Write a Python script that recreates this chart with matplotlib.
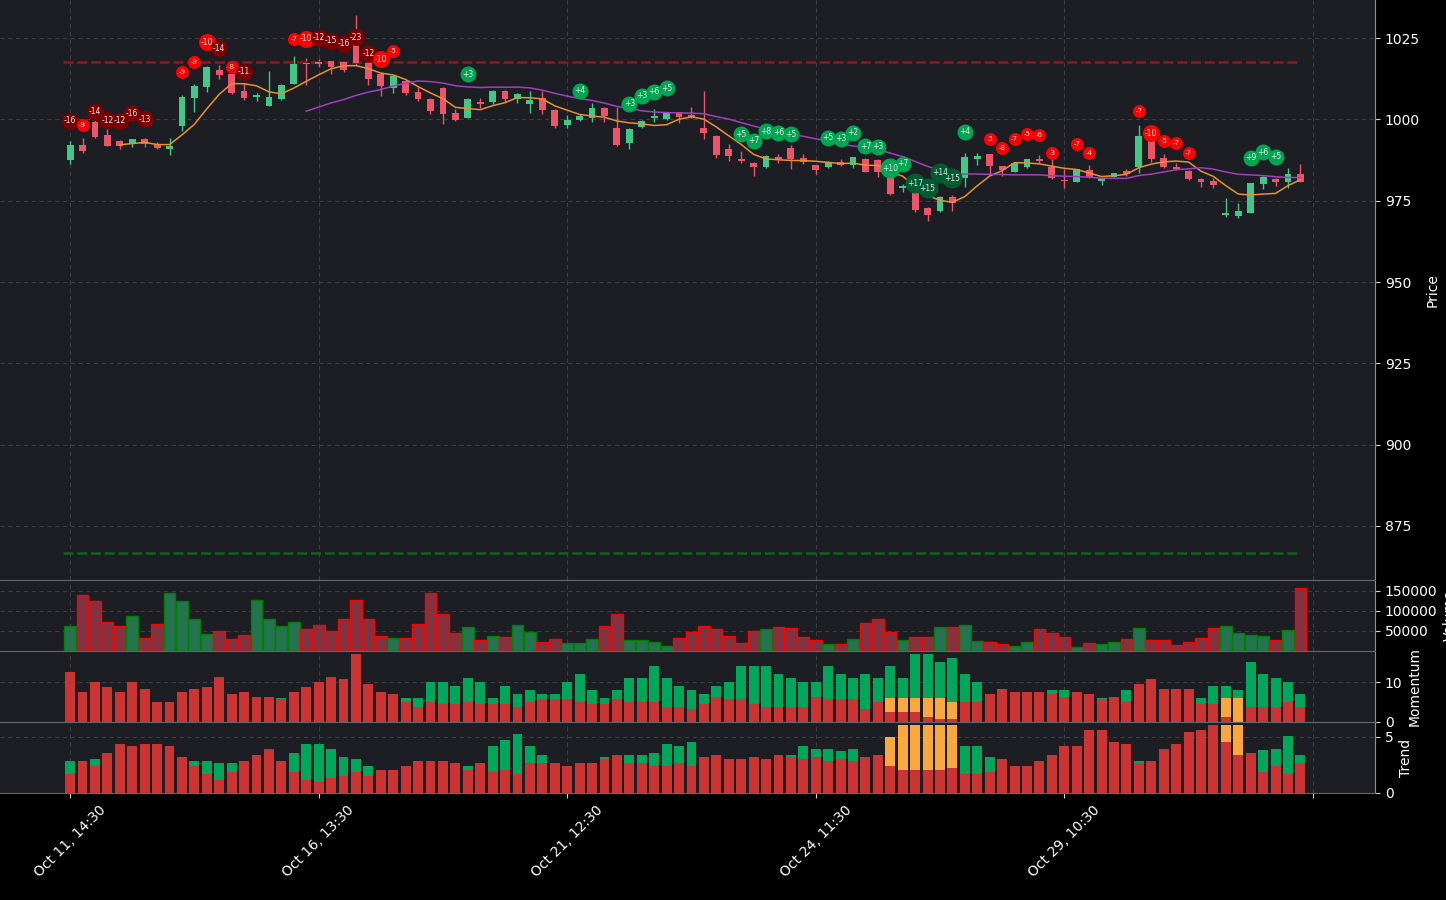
import matplotlib.pyplot as plt
import numpy as np
import pandas as pd

# candle data
opens = [987.5, 992.1, 999.2, 995.2, 993.2, 992.3, 993.9, 992.4, 991.0, 998.0,
         1006.6, 1010.0, 1015.2, 1013.9, 1008.7, 1007.0, 1004.1, 1006.3, 1011.0, 1017.3,
         1017.6, 1017.8, 1017.6, 1023.4, 1017.2, 1013.9, 1009.5, 1011.8, 1008.4, 1006.3,
         1009.6, 1001.9, 1000.5, 1005.4, 1005.4, 1008.7, 1006.2, 1004.7, 1006.5, 1002.9,
         998.3, 999.8, 1000.5, 1003.6, 997.4, 992.8, 997.7, 1000.5, 1000.1, 1002.2,
         1001.4, 997.4, 994.9, 990.9, 987.8, 986.6, 985.4, 988.3, 991.1, 988.0,
         985.9, 985.4, 987.0, 986.0, 987.8, 987.5, 982.4, 978.9, 977.3, 972.8,
         971.8, 976.2, 982.1, 987.8, 989.3, 985.6, 983.9, 985.4, 987.8, 985.3,
         981.2, 980.8, 984.4, 981.1, 982.4, 984.2, 985.3, 993.3, 988.0, 985.3,
         984.1, 981.7, 981.0, 970.6, 970.4, 971.3, 980.0, 981.7, 980.8, 983.1]
highs = [993.3, 994.3, 999.8, 997.0, 993.6, 994.0, 994.2, 993.1, 994.2, 1007.5,
         1010.9, 1016.3, 1016.7, 1014.2, 1011.1, 1008.2, 1014.9, 1010.9, 1019.5, 1018.8,
         1018.6, 1018.0, 1017.8, 1032.1, 1017.5, 1014.2, 1013.5, 1012.2, 1009.8, 1006.5,
         1009.8, 1003.1, 1006.5, 1006.6, 1008.9, 1008.9, 1008.0, 1008.7, 1008.7, 1003.1,
         1001.3, 1001.5, 1005.0, 1003.8, 1003.9, 997.2, 999.8, 1003.1, 1002.4, 1002.4,
         1003.7, 1008.7, 995.2, 992.3, 990.3, 986.8, 988.9, 989.3, 992.1, 989.5,
         986.1, 987.3, 987.9, 988.5, 988.0, 987.7, 982.6, 980.0, 977.5, 973.0,
         976.4, 976.8, 989.6, 989.6, 989.5, 985.8, 986.7, 987.9, 989.1, 987.7,
         984.7, 984.8, 986.0, 982.1, 983.6, 984.6, 998.3, 993.5, 989.3, 986.5,
         984.3, 981.9, 982.1, 975.7, 974.2, 980.5, 982.6, 981.9, 985.0, 986.2]
lows = [986.3, 989.7, 994.2, 991.7, 991.0, 991.4, 991.5, 991.0, 989.2, 996.4,
        1002.3, 1008.5, 1012.4, 1007.8, 1006.0, 1005.6, 1004.0, 1006.0, 1010.8, 1010.6,
        1016.1, 1014.1, 1014.6, 1016.8, 1010.6, 1007.3, 1008.2, 1007.5, 1005.6, 1001.5,
        998.5, 999.5, 1000.3, 1003.4, 1004.6, 1005.4, 1005.0, 1002.0, 1001.5, 997.5,
        997.3, 999.6, 999.1, 999.1, 991.8, 990.8, 997.4, 999.2, 999.9, 998.9,
        1000.4, 993.9, 988.2, 987.3, 986.5, 982.7, 985.2, 986.6, 984.8, 986.4,
        983.3, 985.2, 985.6, 984.9, 983.7, 982.2, 976.8, 977.6, 971.6, 968.9,
        971.6, 971.8, 979.1, 985.9, 983.1, 982.6, 983.7, 985.2, 986.5, 981.6,
        979.0, 980.6, 981.9, 979.9, 982.2, 982.6, 983.4, 986.8, 985.2, 984.4,
        981.5, 979.3, 978.9, 970.0, 969.6, 971.1, 978.6, 979.6, 979.0, 980.6]
closes = [992.1, 990.4, 994.7, 991.9, 991.9, 993.9, 992.3, 991.3, 991.8, 1006.8,
          1010.2, 1016.1, 1013.7, 1008.2, 1006.6, 1007.0, 1006.9, 1010.6, 1017.0, 1017.0,
          1017.0, 1016.2, 1015.2, 1017.2, 1012.4, 1010.2, 1013.3, 1008.2, 1006.3, 1002.6,
          1001.6, 999.8, 1006.3, 1004.6, 1008.7, 1006.3, 1007.7, 1005.9, 1002.9, 997.9,
          999.8, 1001.0, 1003.6, 1001.0, 992.1, 997.0, 999.5, 1001.0, 1002.2, 1000.6,
          1000.6, 995.9, 989.0, 988.7, 987.3, 985.4, 988.7, 987.8, 987.7, 987.0,
          984.4, 987.0, 986.0, 988.3, 983.9, 983.9, 977.0, 979.5, 972.1, 970.6,
          976.2, 974.2, 988.3, 988.7, 985.6, 984.4, 986.5, 987.8, 987.3, 982.1,
          981.1, 984.6, 982.4, 981.9, 983.4, 983.2, 994.9, 987.8, 985.4, 984.6,
          981.7, 980.8, 979.8, 971.1, 971.8, 980.3, 982.2, 980.8, 983.1, 980.8]
volumes = [63600, 140300, 125500, 73500, 62600, 88300, 32200, 68500, 145200, 125500,
           80900, 41300, 48700, 29700, 38800, 128000, 80900, 63600, 73500, 53700,
           66000, 48700, 80900, 128000, 80900, 36300, 31400, 31400, 68500, 145200,
           93200, 43700, 61100, 26400, 36300, 33900, 66000, 46200, 21500, 29000,
           19000, 19000, 29000, 63600, 93200, 26400, 26400, 21500, 11600, 31400,
           46200, 63600, 53700, 36300, 19000, 48700, 53700, 58700, 56200, 33900,
           26400, 16500, 16500, 29000, 71000, 80900, 46200, 26400, 33900, 33900,
           58700, 61100, 66000, 24000, 21500, 16500, 11600, 21500, 53700, 43700,
           33900, 9100, 19000, 16500, 21500, 29000, 56200, 26400, 26400, 14100,
           21500, 31400, 56200, 63600, 43700, 38800, 36300, 26400, 51200, 157700]

# momentum panel (stacked: red, orange, green)
mom_red = [12.6, 7.56, 10.1, 8.8, 7.56, 10.1, 8.3, 5.0, 5.0, 7.56,
           8.3, 8.8, 11.3, 7.06, 7.56, 6.3, 6.3, 5.8, 7.56, 8.8,
           10.1, 11.3, 10.8, 17.1, 9.6, 7.56, 7.06, 5.0, 3.8, 5.0,
           4.5, 4.5, 5.0, 4.5, 4.5, 4.5, 3.8, 5.0, 5.8, 5.8,
           5.8, 5.0, 4.5, 4.5, 5.8, 5.0, 5.0, 5.0, 3.8, 3.8,
           3.3, 4.5, 6.3, 5.8, 5.8, 4.5, 3.8, 3.8, 3.8, 3.8,
           6.3, 5.8, 5.8, 5.8, 3.3, 5.0, 2.5, 2.5, 2.5, 1.3,
           0.75, 0.75, 5.0, 5.0, 7.06, 8.3, 7.56, 7.56, 7.56, 7.06,
           6.3, 7.56, 7.06, 5.8, 6.3, 5.0, 9.6, 10.8, 8.3, 8.3,
           8.3, 4.5, 4.5, 1.3, 0.0, 3.8, 3.8, 3.8, 5.0, 3.8]
mom_orange = [0] * 66 + [3.5, 3.5, 3.5, 4.8, 5.3, 4.3] + [0] * 21 + [4.8, 6.1] + [0] * 5
mom_green = [0, 0, 0, 0, 0, 0, 0, 0, 0, 0,
             0, 0, 0, 0, 0, 0, 0, 0.25, 0, 0,
             0, 0, 0, 0, 0, 0, 0, 1.0, 2.3, 5.0,
             5.5, 4.5, 6.0, 5.5, 1.5, 4.5, 3.3, 3.0, 1.3, 1.3,
             4.3, 7.1, 3.5, 1.5, 2.3, 6.1, 6.1, 9.1, 7.3, 5.3,
             4.8, 2.5, 2.8, 4.3, 8.3, 9.6, 10.3, 8.3, 7.3, 6.3,
             3.8, 8.3, 6.3, 5.3, 8.8, 6.1, 8.1, 5.0, 11.1, 11.1,
             9.1, 11.1, 7.1, 5.0, 0, 0, 0, 0, 0, 1.0,
             1.8, 0, 0, 0.25, 0, 3.0, 0, 0, 0, 0,
             0, 1.5, 4.5, 3.0, 2.0, 11.3, 8.3, 7.3, 5.0, 3.3]

# trend panel (stacked: red, orange, green)
trend_red = [1.73, 2.89, 2.44, 3.6, 4.4, 4.23, 4.4, 4.4, 4.23, 3.24,
             2.44, 1.73, 1.19, 1.9, 2.89, 3.42, 3.96, 2.89, 1.9, 1.19,
             1.0, 1.37, 1.55, 1.9, 1.55, 2.08, 2.08, 2.44, 2.89, 2.89,
             2.89, 2.7, 2.08, 2.7, 1.9, 2.08, 1.73, 2.7, 2.7, 2.7,
             2.44, 2.7, 2.7, 3.07, 3.42, 2.7, 2.7, 2.44, 2.44, 2.7,
             2.44, 3.24, 3.42, 3.07, 3.07, 3.24, 3.07, 3.42, 3.24, 3.07,
             3.24, 2.89, 3.07, 2.89, 3.24, 3.42, 2.44, 2.08, 2.08, 2.08,
             2.08, 2.26, 1.73, 1.73, 1.9, 3.07, 2.44, 2.44, 2.89, 3.42,
             4.23, 4.23, 5.65, 5.65, 4.58, 4.4, 2.7, 2.89, 3.96, 4.4,
             5.48, 5.65, 6.1, 4.58, 3.42, 3.6, 1.9, 2.44, 1.73, 2.7]
trend_orange = [0] * 66 + [2.6, 4.0, 4.0, 4.0, 4.0, 3.84] + [0] * 21 + [1.52, 2.68] + [0] * 5
trend_green = [1.16, 0, 0.63, 0, 0, 0, 0, 0, 0, 0,
               0.45, 1.16, 1.52, 0.8, 0, 0, 0, 0, 1.7, 3.2,
               3.4, 2.6, 1.7, 1.16, 0.9, 0, 0, 0, 0, 0,
               0, 0, 0.36, 0, 2.3, 2.68, 3.57, 1.52, 0.7, 0,
               0, 0, 0, 0.18, 0, 0.7, 0.7, 1.16, 1.9, 1.5,
               2.14, 0, 0, 0, 0, 0, 0, 0, 0.18, 1.16,
               0.7, 1.07, 0.7, 1.07, 0, 0, 0, 0, 0, 0,
               0, 0, 2.5, 2.5, 1.34, 0, 0, 0, 0, 0,
               0, 0, 0, 0, 0, 0, 0.18, 0, 0, 0,
               0, 0, 0, 0, 0, 0, 1.9, 1.52, 3.4, 0.7]

# signal bubbles: candle index, score, price level
sig_idx = [0, 1, 2, 3, 4, 5, 6, 9, 10, 11, 12, 13, 14,
           18, 19, 20, 21, 22, 23, 24, 25, 26,
           32, 41, 45, 46, 47, 48,
           54, 55, 56, 57, 58, 61, 62, 63, 64, 65, 66, 67, 68, 69, 70, 71, 72,
           74, 75, 76, 77, 78, 79, 81, 82, 86, 87, 88, 89, 90, 95, 96, 97]
sig_val = [-16, -9, -14, -12, -12, -16, -13, -9, -9, -10, -14, -8, -11,
           -7, -10, -12, -15, -16, -23, -12, -10, -5,
           3, 4, 3, 3, 6, 5,
           5, 7, 8, 6, 5, 5, 3, 2, 7, 3, 10, 7, 17, 15, 14, 15, 4,
           -5, -8, -7, -5, -6, -3, -7, -4, -7, -10, -5, -7, -7, 9, 6, 5]
sig_price = [999.6, 998.3, 1002.3, 999.8, 999.6, 1001.9, 1000.1, 1014.5, 1017.7, 1023.7, 1021.8, 1016.1, 1014.6,
             1024.8, 1024.8, 1025.1, 1024.2, 1023.2, 1025.2, 1020.3, 1018.5, 1021.0,
             1013.9, 1008.8, 1004.8, 1007.2, 1008.5, 1009.5,
             995.4, 993.4, 996.3, 995.9, 995.5, 994.4, 994.0, 995.9, 991.8, 991.6, 985.0, 986.3,
             980.3, 978.8, 983.6, 981.9, 996.2,
             993.9, 991.1, 993.9, 995.5, 995.2, 989.7, 992.4, 989.7, 1002.6, 995.7, 993.3, 992.6,
             989.7, 988.2, 989.9, 988.5]

resistance = 1017.6
support = 866.7

tick_pos = [0, 20, 40, 60, 80, 100]
tick_labels = ['Oct 11, 14:30', 'Oct 16, 13:30', 'Oct 21, 12:30', 'Oct 24, 11:30', 'Oct 29, 10:30', '']

BG = '#1c1e23'
UP = '#3fc887'
DOWN = '#ef5368'
BAR_RED = '#cc3333'
BAR_GREEN = '#00a65a'
BAR_ORANGE = '#f9a83e'


def style(ax):
    ax.set_facecolor(BG)
    ax.yaxis.tick_right()
    ax.yaxis.set_label_position('right')
    ax.tick_params(colors='white', labelsize=10)
    ax.tick_params(color='#cfd2d6')
    ax.grid(True, color='#3b3e45', linestyle=(0, (4, 3)), linewidth=0.8)
    for side in ['top', 'bottom', 'right']:
        ax.spines[side].set_color('#62666d')
    ax.spines['right'].set_color('#8a8e95')
    ax.spines['left'].set_visible(False)
    ax.set_axisbelow(True)


def main():
    o = np.array(opens)
    h = np.array(highs)
    l = np.array(lows)
    c = np.array(closes)
    x = np.arange(len(c))
    up = c >= o

    fig = plt.figure(figsize=(14.46, 9), dpi=100, facecolor='black')
    ax = fig.add_axes([0, 0.3556, 0.9509, 0.6444])
    axv = fig.add_axes([0, 0.2767, 0.9509, 0.0789], sharex=ax)
    axm = fig.add_axes([0, 0.1978, 0.9509, 0.0789], sharex=ax)
    axt = fig.add_axes([0, 0.1189, 0.9509, 0.0789], sharex=ax)
    for a in [ax, axv, axm, axt]:
        style(a)
    ax.spines['top'].set_visible(False)

    # price candles
    col = np.where(up, UP, DOWN)
    ax.vlines(x, l, h, color=col, linewidth=1, zorder=2)
    body = np.maximum(np.abs(c - o), 0.35)
    ax.bar(x, body, bottom=np.minimum(o, c), width=0.55, color=col, zorder=3)

    ma5 = pd.Series(c).rolling(5).mean()
    ma20 = pd.Series(c).rolling(20).mean()
    ax.plot(x, ma5, color='#e8912d', linewidth=1.1, zorder=4)
    ax.plot(x, ma20, color='#a040c0', linewidth=1.1, zorder=4)

    ax.hlines(resistance, -0.6, 99, color='#a11212', linewidth=1.8, linestyles=(0, (4, 1.5)), zorder=2)
    ax.hlines(support, -0.6, 99, color='#0f6320', linewidth=1.8, linestyles=(0, (4, 1.5)), zorder=2)

    # signal bubbles
    for i, v, p in zip(sig_idx, sig_val, sig_price):
        if v < 0:
            fc = '#7d0000' if v < -10 else '#ff0000'
            d = 13 if v > -10 else (17 if v == -10 else 17)
        else:
            fc = '#005c30' if v > 10 else '#00a651'
            d = 16 if v < 10 else 20
        ax.scatter(i, p, s=(d * 0.72) ** 2, color=fc, zorder=6, linewidths=0)
        ax.text(i, p, f'{v:+d}' if v > 0 else str(v), color='#e6e6e6',
                fontsize=5.5 if d >= 16 else 5, ha='center', va='center', zorder=7)

    ax.set_ylim(858.4, 1036.7)
    ax.set_yticks([875, 900, 925, 950, 975, 1000, 1025])
    ax.set_ylabel('Price', color='white', fontsize=10)

    # volume
    vcol = np.where(up, '#257350', '#843240')
    ecol = np.where(up, '#008000', '#ff0000')
    axv.bar(x, volumes, width=0.95, color=vcol, edgecolor=ecol, linewidth=1)
    axv.set_ylim(0, 177500)
    axv.set_yticks([50000, 100000, 150000])
    axv.set_ylabel('Volume', color='white', fontsize=10)

    # momentum
    mr = np.array(mom_red)
    mo = np.array(mom_orange)
    mg = np.array(mom_green)
    axm.bar(x, mr, width=0.8, color=BAR_RED)
    axm.bar(x, mo, width=0.8, bottom=mr, color=BAR_ORANGE)
    axm.bar(x, mg, width=0.8, bottom=mr + mo, color=BAR_GREEN)
    axm.set_ylim(0, 17.9)
    axm.set_yticks([0, 10])
    axm.set_ylabel('Momentum', color='white', fontsize=10)

    # trend
    tr = np.array(trend_red)
    to = np.array(trend_orange)
    tg = np.array(trend_green)
    axt.bar(x, tr, width=0.8, color=BAR_RED)
    axt.bar(x, to, width=0.8, bottom=tr, color=BAR_ORANGE)
    axt.bar(x, tg, width=0.8, bottom=tr + to, color=BAR_GREEN)
    axt.set_ylim(0, 6.34)
    axt.set_yticks([0, 5])
    axt.set_ylabel('Trend', color='white', fontsize=10)

    ax.set_xlim(-5.64, 105.0)
    axt.set_xticks(tick_pos)
    axt.set_xticklabels(tick_labels, rotation=45)
    for a in [ax, axv, axm]:
        a.tick_params(axis='x', length=0, labelbottom=False)

    fig.savefig('out.png', dpi=100, facecolor='black')


if __name__ == '__main__':
    main()
